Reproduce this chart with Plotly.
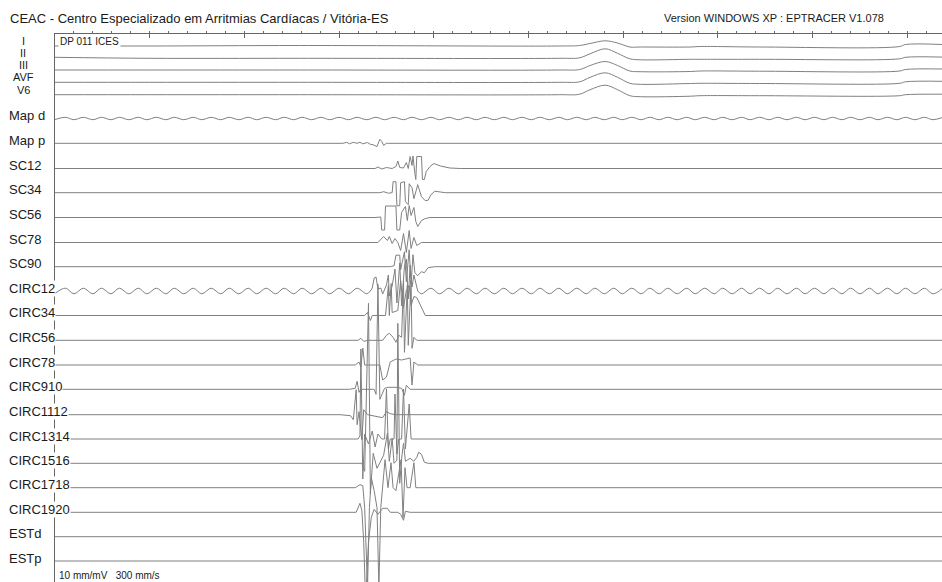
import plotly.graph_objects as go

# ---------------- data (time in ms, amplitude in mV) ----------------
labels = ["I", "II", "III", "AVF", "V6", "Map d", "Map p", "SC12", "SC34", "SC56",
          "SC78", "SC90", "CIRC12", "CIRC34", "CIRC56", "CIRC78", "CIRC910",
          "CIRC1112", "CIRC1314", "CIRC1516", "CIRC1718", "CIRC1920", "ESTd", "ESTp"]

surf_t = [0, 100, 259, 533, 554, 565, 581, 594, 607, 618, 671, 681, 744, 892, 898, 937]
lead_I = [0, 0, 0.05, 0, 0.05, 0.25, 0.52, 0.3, -0.1, -0.1, -0.1, -0.05, -0.1, -0.05, 0.15, 0.15]
lead_II = [0.1, 0, 0, 0, 0.05, 0.45, 0.95, 0.5, -0.05, -0.15, -0.1, -0.1, -0.1, -0.05, 0.1, 0.12]
lead_III = [0, 0, 0, 0, 0.05, 0.45, 0.85, 0.45, -0.1, -0.17, -0.15, -0.1, -0.12, -0.1, 0.05, 0.1]
lead_AVF = [0, 0, 0, 0, 0.05, 0.5, 0.95, 0.5, -0.1, -0.2, -0.12, -0.1, -0.12, -0.1, 0.05, 0.1]
lead_V6 = [0, 0, 0, 0, 0.05, 0.5, 0.95, 0.5, -0.1, -0.2, -0.15, -0.1, -0.1, -0.1, 0, 0.05]

hum_t = [0, 11, 20, 30, 40, 49, 59, 68, 78, 88, 97, 107, 117, 126, 136, 146, 155, 165, 175,
         184, 194, 204, 213, 223, 233, 242, 252, 261, 271, 281, 290, 300, 310, 319, 329, 339,
         348, 358, 368, 377, 387, 397, 406, 416, 426, 435, 445, 454, 464, 474, 483, 493, 503,
         512, 522, 532, 541, 551, 561, 570, 580, 590, 599, 609, 619, 628, 638, 647, 657, 667,
         676, 686, 696, 705, 715, 725, 734, 744, 754, 763, 773, 783, 792, 802, 812, 821, 831,
         840, 850, 860, 869, 879, 889, 898, 908, 918, 927, 937]
mapd_v = [-0.1,
          0.12, -0.12, 0.12, -0.12, 0.12, -0.12, 0.12, -0.12, 0.12, -0.12, 0.12, -0.12,
          0.12, -0.12, 0.12, -0.12, 0.12, -0.12, 0.12, -0.12, 0.12, -0.12, 0.12, -0.12,
          0.12, -0.12, 0.12, -0.12, 0.12, -0.12, 0.12, -0.12, 0.12, -0.12, 0.12, -0.12,
          0.12, -0.12, 0.12, -0.12, 0.12, -0.12, 0.12, -0.12, 0.12, -0.12, 0.12, -0.12,
          0.12, -0.12, 0.12, -0.12, 0.12, -0.12, 0.12, -0.12, 0.12, -0.12, 0.12, -0.12,
          0.12, -0.12, 0.12, -0.12, 0.12, -0.12, 0.12, -0.12, 0.12, -0.12, 0.12, -0.12,
          0.12, -0.12, 0.12, -0.12, 0.12, -0.12, 0.12, -0.12, 0.12, -0.12, 0.12, -0.12,
          0.12, -0.12, 0.12, -0.12, 0.12, -0.12, 0.12, -0.12, 0.12, -0.12, 0.12, -0.12,
          0.1]
circ12_v = [-0.25,
            0.28, -0.28, 0.28, -0.28, 0.28, -0.28, 0.28, -0.28, 0.28, -0.28, 0.28, -0.28,
            0.28, -0.28, 0.28, -0.28, 0.28, -0.28, 0.28, -0.28, 0.28, -0.28, 0.28, -0.28,
            0.28, -0.28, 0.28, -0.28, 0.28, -0.28, 0.28, -0.28, 0.28, -0.28, 0.28, -0.28,
            0.28, -0.28, 0.28, -0.28, 0.28, -0.28, 0.28, -0.28, 0.28, -0.28, 0.28, -0.28,
            0.28, -0.28, 0.28, -0.28, 0.28, -0.28, 0.28, -0.28, 0.28, -0.28, 0.28, -0.28,
            0.28, -0.28, 0.28, -0.28, 0.28, -0.28, 0.28, -0.28, 0.28, -0.28, 0.28, -0.28,
            0.28, -0.28, 0.28, -0.28, 0.28, -0.28, 0.28, -0.28, 0.28, -0.28, 0.28, -0.28,
            0.28, -0.28, 0.28, -0.28, 0.28, -0.28, 0.28, -0.28, 0.28, -0.28, 0.28, -0.28,
            0.25]

flat_t = [0, 937]
flat_v = [0, 0]

mapp_t = [304, 308, 311, 315, 319, 322, 325, 330, 333, 336, 340, 342, 343, 345, 347, 350, 352]
mapp_v = [0, 0.1, -0.05, 0.1, 0, 0.1, -0.05, 0.08, -0.1, -0.15, -0.33, 0.2, 0.4, 0.2, -0.2, 0, 0]

sc12_t = [338, 341, 345, 350, 356, 360, 362, 364, 368, 371, 373, 375, 377, 378, 380, 381, 382,
          387, 388, 390, 392, 396, 400, 407, 417, 428]
sc12_v = [0, 0.15, -0.05, 0.1, 0, 0.2, 0.75, 0.1, 0.05, 0.6, 0, 1.2, 0.3, 1.25, -0.5, -1.1, 1.2,
          1.2, -1.1, -1.1, -0.3, 0.2, 0.5, 0.25, 0.05, 0]
sc34_t = [343, 347, 352, 356, 357, 360, 361, 364, 365, 369, 370, 373, 374, 377, 379, 383, 387,
          391, 394, 397, 401, 412]
sc34_v = [0, 0.1, -0.05, 0, 1.1, 1.1, -1.3, -1.3, 1.0, 1.1, -0.9, -1.2, 0.9, 0.5, -0.6, 0.8,
          -0.4, -0.8, -0.75, -0.2, 0.15, 0]
sc56_t = [338, 344, 345, 348, 349, 360, 361, 364, 366, 370, 372, 374, 376, 379, 381, 383, 387,
          391, 396]
sc56_v = [0, 0.05, -1.25, -1.25, 1.15, 1.15, -1.25, -1.25, 0.5, 1.1, -0.3, 1.2, 0.2, 1.0, -0.4,
          -0.9, -0.3, -0.1, 0]
sc78_t = [341, 347, 351, 353, 356, 359, 362, 365, 368, 371, 374, 376, 379, 382, 387, 396]
sc78_v = [0, 0.6, 0.2, 0.6, -0.1, 0.4, 0, -0.8, 0.9, -1.0, 1.2, -0.6, 0.5, -0.3, 0, 0]
sc90_t = [354, 358, 360, 364, 365, 369, 371, 374, 376, 378, 380, 383, 387, 390, 394, 401]
sc90_v = [0, 0.1, 1.15, 1.15, -0.3, 1.5, -1.5, 1.7, -1.8, 1.2, -0.6, -0.9, -0.5, -0.6, -0.1, 0]
circ12_bt = [333, 335, 337, 339, 341, 344, 346, 350, 352, 353, 356, 359, 361, 364, 366, 369,
             371, 373, 375, 377, 379, 381, 383]
circ12_bv = [0, 0.3, 1.3, 1.4, 0.2, 0.3, -0.3, 0.6, 1.6, -0.5, 0.5, 2.2, -1.2, 2.8, -1.5, 2.5,
             3.2, -0.8, 2.6, 0.4, 1.6, 0.8, 0]
circ34_t = [327, 330, 333, 335, 349, 352, 353, 355, 356, 362, 365, 368, 371, 374, 376, 379, 382,
            387, 391]
circ34_v = [0, 0.3, -0.5, 0, 0, 3.0, 0, 3.2, 0.3, 0.5, 3.5, 0.8, 2.5, 3.0, 1.0, 1.9, 1.8, 0.8, 0]
circ56_t = [320, 323, 326, 331, 346, 350, 353, 357, 360, 363, 366, 368, 369, 372, 373, 376, 377,
            379, 382]
circ56_v = [0, 0.2, -0.1, 0, 0, 0.5, 0.7, 0.3, -0.2, 0.5, 0.3, 6.0, -1.2, 5.5, -0.5, 6.0, -0.8,
            0.3, 0]
circ78_t = [317, 321, 323, 325, 327, 343, 346, 350, 354, 360, 366, 375, 377, 379, 383]
circ78_v = [0, 0.3, -0.2, 1.7, 0, 0, -1.5, -1.2, 0.3, 0.6, 0.5, 0.7, -2.0, 0.3, 0]
circ910_t = [311, 317, 319, 321, 323, 337, 339, 341, 343, 345, 348, 352, 360, 366, 369, 371, 375]
circ910_v = [0, 0.1, 0.8, -0.3, 0, 0, -0.5, 10.5, -1.0, -0.6, 0.1, 0.2, 0.2, 0.1, -0.6, 0.4, 0]
circ1112_t = [301, 312, 315, 318, 319, 321, 324, 326, 330, 346, 350, 354, 360]
circ1112_v = [0, -0.1, -0.5, 2.5, -1.0, 0.3, -2.5, 0.5, 0, -0.3, 0.3, 0.1, 0]
circ1314_t = [320, 322, 323, 325, 327, 331, 335, 338, 341, 345, 348, 350, 352, 354, 358, 359,
              361, 363, 366, 368, 370, 374, 376, 380]
circ1314_v = [0, 0.3, 9.0, -4.0, 0.5, -0.5, 0.8, -0.8, 0.5, 0, 0, 5.0, -1.0, 0, 0, 4.5, -1.5,
              0, 0, 5.0, -1.0, 3.5, 0, 0]
circ1516_t = [324, 327, 331, 333, 336, 340, 347, 351, 353, 356, 358, 361, 362, 364, 366, 368,
              370, 375, 379, 382, 384, 387, 390, 394]
circ1516_v = [0, -0.8, 16.0, -3.0, 1.0, -0.5, 0.8, 3.0, 0.2, 2.5, 0, 0.3, 14.0, -2.0, 0.5, 2.0,
              0.2, 0.5, 0.2, 0.6, 1.1, 0.9, 0.1, 0]
circ1718_t = [317, 322, 325, 327, 330, 332, 334, 337, 340, 342, 344, 346, 348.5, 351.6, 354.8,
              357, 360, 365.4, 367.5, 369.6, 371.7, 375, 379, 381, 385]
circ1718_v = [0, 0.3, 0.2, -2.0, -10.0, -2.0, 1.0, -0.3, -2.0, -10.0, -2.0, 0.5, 2.8, 0, 2.5,
              0, -0.3, 2.8, -3.0, 2.0, 0, 0, 2.5, 0, 0]
circ1920_t = [318, 322, 324, 326, 328, 331, 334, 337, 341, 346, 351, 354, 362, 365, 368, 370, 375]
circ1920_v = [0, 0.9, 0.2, -3.0, -9.0, -3.0, -0.5, 0.3, -0.2, 0.4, 0.4, 0, 0, -0.2, -0.8, 0.1, 0]

# channel -> (base_t, base_v, events, smooth_base)
channels = [
    (surf_t, lead_I, [], True),
    (surf_t, lead_II, [], True),
    (surf_t, lead_III, [], True),
    (surf_t, lead_AVF, [], True),
    (surf_t, lead_V6, [], True),
    (hum_t, mapd_v, [], True),
    (flat_t, flat_v, [(mapp_t, mapp_v)], False),
    (flat_t, flat_v, [(sc12_t, sc12_v)], False),
    (flat_t, flat_v, [(sc34_t, sc34_v)], False),
    (flat_t, flat_v, [(sc56_t, sc56_v)], False),
    (flat_t, flat_v, [(sc78_t, sc78_v)], False),
    (flat_t, flat_v, [(sc90_t, sc90_v)], False),
    (hum_t, circ12_v, [(circ12_bt, circ12_bv)], True),
    (flat_t, flat_v, [(circ34_t, circ34_v)], False),
    (flat_t, flat_v, [(circ56_t, circ56_v)], False),
    (flat_t, flat_v, [(circ78_t, circ78_v)], False),
    (flat_t, flat_v, [(circ910_t, circ910_v)], False),
    (flat_t, flat_v, [(circ1112_t, circ1112_v)], False),
    (flat_t, flat_v, [(circ1314_t, circ1314_v)], False),
    (flat_t, flat_v, [(circ1516_t, circ1516_v)], False),
    (flat_t, flat_v, [(circ1718_t, circ1718_v)], False),
    (flat_t, flat_v, [(circ1920_t, circ1920_v)], False),
    (flat_t, flat_v, [], False),
    (flat_t, flat_v, [], False),
]

# ---------------- layout (positions, sizes, styles) ----------------
W, H = 942, 582
ML, MT = 55, 34
PLOT_W, PLOT_H = W - ML, H - MT
T_MAX = 936.6
PX_PER_MV = 10
row_px = [46, 58.3, 70, 82.3, 94.7, 118.5, 143.3, 168.5, 192.7, 217.5, 242.5, 266.7, 291,
          315.5, 340.3, 365, 389.3, 414.7, 439, 463.3, 487.7, 512.3, 536.7, 561]
TRACE_COLOR = "#808080"
TEXT_COLOR = "#1a1a1a"
FONT = "Arial, Liberation Sans, sans-serif"


def split(base_t, base_v, events):
    out = []
    ct, cv = [], []
    i = 0
    for et, ev in sorted(events, key=lambda e: e[0][0]):
        while i < len(base_t) and base_t[i] < et[0]:
            ct.append(base_t[i]); cv.append(base_v[i]); i += 1
        ct.append(et[0]); cv.append(ev[0])
        out.append((ct, cv, False))
        out.append((list(et), list(ev), True))
        while i < len(base_t) and base_t[i] <= et[-1]:
            i += 1
        ct, cv = [et[-1]], [ev[-1]]
    ct += list(base_t[i:]); cv += list(base_v[i:])
    out.append((ct, cv, False))
    return out


fig = go.Figure()
for k, (bt, bv, evs, smooth) in enumerate(channels):
    base = row_px[k] - MT
    for ts, vs, is_ev in split(bt, bv, evs):
        ys = [base - v * PX_PER_MV for v in vs]
        shape = "spline" if (smooth and not is_ev) else "linear"
        fig.add_trace(go.Scatter(x=ts, y=ys, mode="lines", hoverinfo="skip",
                                 line=dict(color=TRACE_COLOR, width=1, shape=shape)))

ann = []
for k, lab in enumerate(labels):
    if k < 5:
        ann.append(dict(text=lab, xref="paper", yref="y", x=(23 - ML) / PLOT_W,
                        y=row_px[k] - MT - 5, xanchor="center", yanchor="middle",
                        showarrow=False, borderpad=0,
                        font=dict(family=FONT, size=11, color=TEXT_COLOR)))
    else:
        ann.append(dict(text=lab, xref="paper", yref="y", x=(8 - ML) / PLOT_W,
                        y=row_px[k] - MT - 3, xanchor="left", yanchor="middle",
                        showarrow=False, bgcolor="white", borderpad=0,
                        font=dict(family=FONT, size=13, color=TEXT_COLOR)))

ann.append(dict(text="CEAC - Centro Especializado em Arritmias Cardíacas / Vitória-ES",
                xref="paper", yref="paper", x=(8 - ML) / PLOT_W, y=1 + (MT - 19) / PLOT_H,
                xanchor="left", yanchor="middle", showarrow=False,
                font=dict(family=FONT, size=13, color=TEXT_COLOR)))
ann.append(dict(text="Version WINDOWS XP : EPTRACER V1.078",
                xref="paper", yref="paper", x=(662 - ML) / PLOT_W, y=1 + (MT - 18) / PLOT_H,
                xanchor="left", yanchor="middle", showarrow=False,
                font=dict(family=FONT, size=11, color=TEXT_COLOR)))
ann.append(dict(text="DP 011 ICES", xref="paper", yref="y", x=(58 - ML) / PLOT_W, y=41 - MT,
                xanchor="left", yanchor="middle", showarrow=False, bgcolor="white",
                borderpad=1, font=dict(family=FONT, size=10, color=TEXT_COLOR)))
ann.append(dict(text="10 mm/mV   300 mm/s", xref="paper", yref="y", x=(57 - ML) / PLOT_W,
                y=575 - MT, xanchor="left", yanchor="middle", showarrow=False,
                font=dict(family=FONT, size=10, color=TEXT_COLOR)))

fig.update_layout(
    width=W, height=H, margin=dict(l=ML, r=0, t=MT, b=0),
    paper_bgcolor="white", plot_bgcolor="white", showlegend=False,
    annotations=ann,
    xaxis=dict(range=[0, T_MAX], side="top", showline=True, linecolor="#666", linewidth=1,
               ticks="inside", ticklen=4, tickcolor="#666", tick0=0, dtick=100,
               showticklabels=False, showgrid=False, zeroline=False,
               minor=dict(ticks="outside", ticklen=2, tickcolor="#666", dtick=20,
                          showgrid=False)),
    yaxis=dict(range=[PLOT_H, 0], showline=True, linecolor="#666", linewidth=1, ticks="",
               showticklabels=False, showgrid=False, zeroline=False),
)

fig.write_html("out.html", config={"displayModeBar": False, "staticPlot": True},
               post_script="document.body.style.margin='0';document.body.style.overflow='hidden';")
